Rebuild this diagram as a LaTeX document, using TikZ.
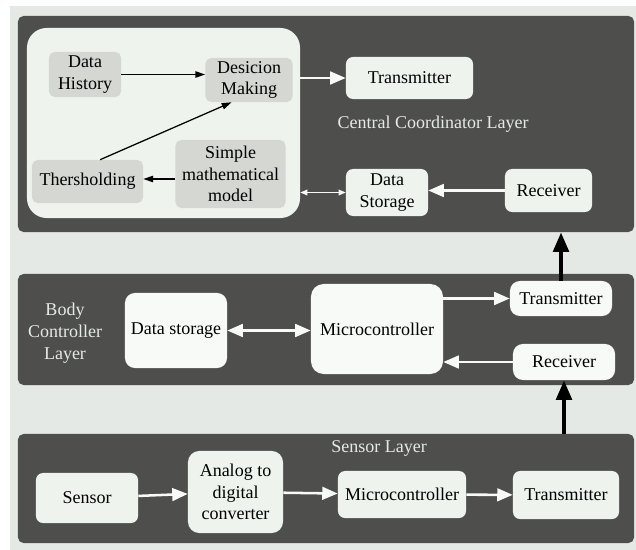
\documentclass[tikz,border=0pt]{standalone}
\usepackage{fontspec}
\setmainfont{LiberationSerif}[Extension=.ttf, UprightFont=*-Regular, BoldFont=*-Bold, ItalicFont=*-Italic, BoldItalicFont=*-BoldItalic]
\usetikzlibrary{arrows.meta}
\definecolor{bgc}{HTML}{E5E9E5}
\definecolor{darkc}{HTML}{4E4F4D}
\definecolor{panelc}{HTML}{EEF3EE}
\definecolor{greyc}{HTML}{D5D7D3}
\definecolor{whitec}{HTML}{F8FAF8}
\definecolor{labelc}{HTML}{E6EAE6}
\begin{document}
\begin{tikzpicture}[x=0.025cm, y=-0.025cm,
  every node/.style={font=\rmfamily\fontsize{12.8}{15.5}\selectfont, inner sep=2pt, align=center},
  layer/.style={fill=darkc, rounded corners=4pt},
  gbox/.style={fill=greyc, rounded corners=4pt},
  lbox/.style={fill=panelc, rounded corners=5pt},
  wbox/.style={fill=whitec, rounded corners=7pt},
  lname/.style={text=labelc},
  blk/.style={-{Triangle[length=7pt,width=4.5pt]}, line width=0.9pt, black},
  wht/.style={-{Triangle[length=11pt,width=9pt]}, line width=1.8pt, whitec},
  thk/.style={-{Triangle[length=14pt,width=11pt]}, line width=3pt, black}]
  \useasboundingbox (0,0) rectangle (636,550);
  \fill[bgc] (10,6) rectangle (636,550);

  % layers
  \node[layer, minimum width=15.4cm, minimum height=5.4cm] (top) at (326,124) {};
  \node[layer, minimum width=15.4cm, minimum height=2.775cm] (mid) at (326,329.5) {};
  \node[layer, minimum width=15.4cm, minimum height=2.725cm] (bot) at (326,488.5) {};

  % central coordinator
  \node[fill=panelc, rounded corners=14pt, minimum width=6.825cm, minimum height=4.75cm] (panel) at (163.5,123) {};
  \node[gbox, minimum width=1.8cm, minimum height=1.125cm] (hist) at (85,74.5) {Data\\History};
  \node[gbox, minimum width=2.175cm, minimum height=1.1cm] (dec) at (249,80) {Desicion\\Making};
  \node[gbox, minimum width=2.75cm, minimum height=1.7cm] (model) at (230.5,174) {Simple\\mathematical\\model};
  \node[gbox, minimum width=2.775cm, minimum height=1.075cm] (thr) at (87.5,181.5) {Thersholding};
  \node[lbox, minimum width=3.175cm, minimum height=1.05cm] (tx) at (409.5,78) {Transmitter};
  \node[lbox, minimum width=2.05cm, minimum height=1.175cm] (stor) at (387,192.5) {Data\\Storage};
  \node[lbox, minimum width=2.175cm, minimum height=1.075cm] (rec) at (548.5,190.5) {Receiver};
  \node[lname] (ccl) at (433,124) {Central Coordinator Layer};

  \draw[blk] (hist.east) -- (dec.west |- hist.east);
  \draw[blk] (thr.60) -- (dec.232);
  \draw[blk] (model.west |- 0,179) -- (thr.east |- 0,179);
  \draw[wht] (panel.east |- tx.west) -- (tx.west);
  \draw[{Triangle[length=5pt,width=4pt]}-{Triangle[length=5pt,width=4pt]}, line width=1pt, whitec] (panel.east |- stor.west) -- (stor.west);
  \draw[wht] (rec.west) -- (stor.east |- rec.west);

  % body controller
  \node[lname] (bcl) at (65,333) {Body\\Controller\\Layer};
  \node[wbox, minimum width=2.55cm, minimum height=1.875cm] (dstor) at (176,330.5) {Data storage};
  \node[wbox, minimum width=3.3cm, minimum height=2.25cm, rounded corners=9pt] (mc) at (377,329) {Microcontroller};
  \node[wbox, minimum width=2.55cm, minimum height=0.875cm] (mtx) at (561,298.5) {Transmitter};
  \node[wbox, minimum width=2.55cm, minimum height=0.9cm] (mrx) at (564,362) {Receiver};

  \draw[wht, {Triangle[length=11pt,width=9pt]}-{Triangle[length=11pt,width=9pt]}] (dstor.east) -- (mc.west |- dstor.east);
  \draw[wht] (mc.east |- mtx.west) -- (mtx.west);
  \draw[wht] (mrx.west) -- (mc.east |- mrx.west);
  \draw[thk] (mtx.north) -- (mtx.north |- top.south);
  \draw[thk] (bot.north -| mrx.south) -- (mrx.south);

  % sensor
  \node[lname] (sl) at (379,448) {Sensor Layer};
  \node[lbox, minimum width=2.55cm, minimum height=1.25cm] (sen) at (87,498) {Sensor};
  \node[lbox, minimum width=2.375cm, minimum height=2.05cm, rounded corners=8pt] (adc) at (235.5,492) {Analog to\\digital\\converter};
  \node[lbox, minimum width=3.2cm, minimum height=1.175cm] (mcs) at (402,494.5) {Microcontroller};
  \node[lbox, minimum width=2.65cm, minimum height=1.2cm] (txs) at (566,495) {Transmitter};

  \draw[wht] (sen) -- (adc);
  \draw[wht] (adc) -- (mcs);
  \draw[wht] (mcs) -- (txs);
\end{tikzpicture}
\end{document}
